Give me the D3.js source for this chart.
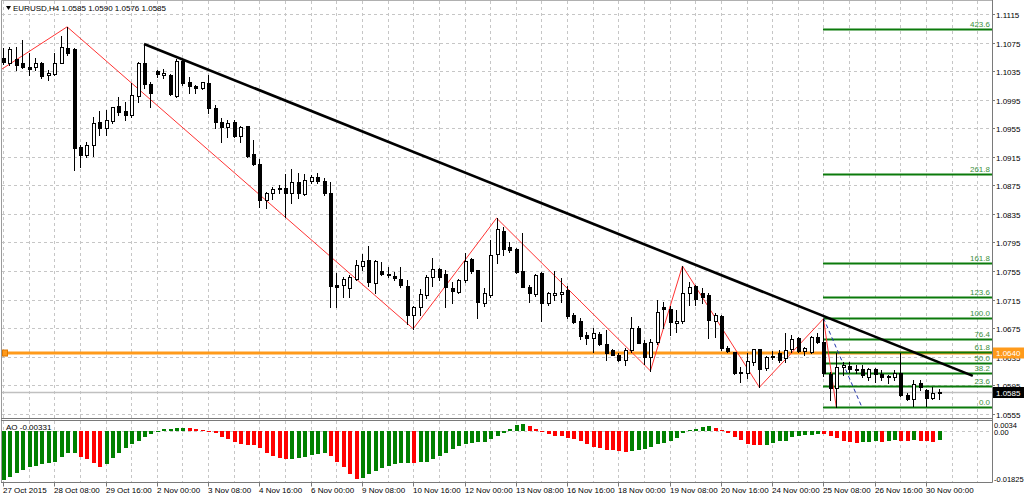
<!DOCTYPE html>
<html><head><meta charset="utf-8">
<script src="https://cdn.jsdelivr.net/npm/d3@7"></script>
<style>html,body{margin:0;padding:0;background:#fff;overflow:hidden;} svg{display:block;font-family:"Liberation Sans",Arial,sans-serif;}</style>
</head><body><svg id="c" width="1024" height="497"></svg>
<script>
// ---------------- DATA ----------------
const symbolTitle = "EURUSD,H4";
const lastOHLC = [1.0585, 1.0590, 1.0576, 1.0585];

const openP = [1.1053,1.1046,1.1052,1.1046,1.1041,1.1041,1.1046,1.1030,1.1031,1.1046,
1.1067,1.1066,1.0929,1.0917,1.0931,1.0964,1.0955,1.0965,1.0986,1.0979,
1.0973,1.1000,1.1046,1.1017,1.1035,1.1029,1.1029,1.1000,1.1049,1.1020,
1.1014,1.1011,1.1018,1.0983,1.0964,1.0957,1.0964,1.0944,1.0958,1.0919,
1.0905,1.0854,1.0864,1.0871,1.0871,1.0864,1.0880,1.0863,1.0881,1.0887,
1.0881,1.0864,1.0735,1.0735,1.0731,1.0744,1.0762,1.0770,1.0738,1.0755,
1.0751,1.0748,1.0744,1.0734,1.0693,1.0704,1.0721,1.0747,1.0758,1.0751,
1.0731,1.0726,1.0742,1.0772,1.0756,1.0710,1.0721,1.0779,1.0811,1.0788,
1.0786,1.0755,1.0733,1.0723,1.0752,1.0710,1.0722,1.0723,1.0728,1.0693,
1.0685,1.0665,1.0661,1.0667,1.0653,1.0644,1.0637,1.0630,1.0644,1.0675,
1.0654,1.0634,1.0656,1.0704,1.0701,1.0682,1.0685,1.0724,1.0734,1.0724,
1.0721,1.0685,1.0692,1.0647,1.0641,1.0613,1.0612,1.0627,1.0646,1.0619,
1.0636,1.0640,1.0633,1.0646,1.0661,1.0643,1.0641,1.0662,1.0655,1.0611,
1.0591,1.0620,1.0622,1.0618,1.0618,1.0607,1.0618,1.0611,1.0608,1.0606,
1.0612,1.0581,1.0576,1.0598,1.0588,1.0577,1.0585];
const highP = [1.1067,1.1069,1.1069,1.1079,1.1060,1.1053,1.1048,1.1037,1.1060,1.1084,
1.1097,1.1067,1.0931,1.0936,1.0971,1.0979,1.0980,1.0985,1.0999,1.0992,
1.1018,1.1048,1.1073,1.1020,1.1037,1.1038,1.1031,1.1052,1.1052,1.1027,
1.1016,1.1020,1.1030,1.0988,1.0969,1.0966,1.0966,1.0958,1.0958,1.0938,
1.0912,1.0866,1.0873,1.0875,1.0891,1.0898,1.0892,1.0891,1.0889,1.0892,
1.0885,1.0880,1.0752,1.0747,1.0749,1.0770,1.0779,1.0790,1.0770,1.0768,
1.0761,1.0753,1.0760,1.0742,1.0706,1.0730,1.0749,1.0773,1.0759,1.0756,
1.0740,1.0744,1.0780,1.0773,1.0757,1.0731,1.0798,1.0829,1.0817,1.0795,
1.0787,1.0808,1.0735,1.0751,1.0753,1.0725,1.0755,1.0745,1.0734,1.0696,
1.0689,1.0669,1.0675,1.0669,1.0672,1.0645,1.0640,1.0647,1.0690,1.0678,
1.0658,1.0659,1.0714,1.0711,1.0706,1.0700,1.0762,1.0740,1.0736,1.0731,
1.0724,1.0696,1.0693,1.0650,1.0641,1.0620,1.0640,1.0646,1.0646,1.0636,
1.0643,1.0644,1.0668,1.0665,1.0663,1.0648,1.0664,1.0668,1.0688,1.0613,
1.0640,1.0627,1.0627,1.0623,1.0623,1.0619,1.0619,1.0616,1.0609,1.0616,
1.0640,1.0584,1.0602,1.0602,1.0590,1.0592,1.0590];
const lowP = [1.1045,1.1044,1.1037,1.1039,1.1030,1.1037,1.1025,1.1023,1.1030,1.1046,
1.1058,1.0896,1.0901,1.0915,1.0916,1.0945,1.0945,1.0962,1.0973,1.0966,
1.0971,1.0992,1.1011,1.0985,1.1027,1.1025,1.1001,1.0999,1.1016,1.1004,
1.1004,1.1010,1.0976,1.0955,1.0936,1.0943,1.0943,1.0936,1.0915,1.0903,
1.0845,1.0843,1.0856,1.0864,1.0830,1.0850,1.0857,1.0861,1.0878,1.0878,
1.0861,1.0704,1.0704,1.0719,1.0719,1.0742,1.0756,1.0734,1.0724,1.0750,
1.0747,1.0742,1.0733,1.0681,1.0674,1.0693,1.0717,1.0734,1.0742,1.0704,
1.0710,1.0724,1.0739,1.0752,1.0689,1.0706,1.0718,1.0766,1.0777,1.0782,
1.0752,1.0733,1.0712,1.0720,1.0685,1.0707,1.0714,1.0711,1.0689,1.0682,
1.0660,1.0653,1.0641,1.0651,1.0630,1.0637,1.0629,1.0623,1.0641,1.0654,
1.0625,1.0615,1.0653,1.0675,1.0665,1.0670,1.0682,1.0707,1.0707,1.0710,
1.0661,1.0662,1.0644,1.0641,1.0611,1.0599,1.0605,1.0623,1.0592,1.0616,
1.0632,1.0627,1.0627,1.0641,1.0641,1.0637,1.0640,1.0654,1.0608,1.0574,
1.0564,1.0609,1.0613,1.0612,1.0606,1.0602,1.0599,1.0602,1.0598,1.0602,
1.0580,1.0574,1.0566,1.0588,1.0566,1.0575,1.0576];
const closeP = [1.1048,1.1066,1.1044,1.1041,1.1038,1.1046,1.1028,1.1032,1.1046,1.1069,
1.1060,1.0927,1.0917,1.0931,1.0962,1.0955,1.0966,1.0985,1.0978,1.0973,
1.1002,1.1046,1.1017,1.1004,1.1031,1.1032,1.1003,1.1049,1.1018,1.1014,
1.1011,1.1020,1.0983,1.0964,1.0957,1.0962,1.0944,1.0957,1.0916,1.0905,
1.0854,1.0864,1.0870,1.0870,1.0864,1.0880,1.0864,1.0882,1.0887,1.0881,
1.0864,1.0734,1.0733,1.0744,1.0747,1.0763,1.0769,1.0740,1.0769,1.0751,
1.0749,1.0745,1.0735,1.0693,1.0704,1.0723,1.0747,1.0758,1.0747,1.0733,
1.0727,1.0742,1.0769,1.0755,1.0711,1.0724,1.0777,1.0814,1.0786,1.0784,
1.0754,1.0733,1.0724,1.0749,1.0710,1.0724,1.0724,1.0725,1.0692,1.0683,
1.0664,1.0661,1.0668,1.0653,1.0640,1.0637,1.0630,1.0644,1.0675,1.0654,
1.0634,1.0655,1.0698,1.0701,1.0683,1.0685,1.0724,1.0733,1.0716,1.0718,
1.0686,1.0693,1.0647,1.0643,1.0612,1.0612,1.0629,1.0646,1.0618,1.0634,
1.0634,1.0630,1.0644,1.0660,1.0643,1.0647,1.0662,1.0655,1.0612,1.0591,
1.0620,1.0623,1.0618,1.0617,1.0609,1.0618,1.0611,1.0606,1.0606,1.0612,
1.0581,1.0576,1.0597,1.0592,1.0577,1.0584,1.0585];

const aoValues = [-0.01766,-0.01646,-0.01503,-0.01408,-0.01312,-0.01265,-0.01205,-0.01169,-0.01109,-0.00954,
-0.00811,-0.00799,-0.00931,-0.01014,-0.01145,-0.01288,-0.01205,-0.00990,-0.00787,-0.00632,
-0.00489,-0.00358,-0.00215,-0.00119,-0.00036,0.00048,0.00072,0.00084,0.00107,0.00084,
0.00072,0.00036,-0.00012,-0.00095,-0.00215,-0.00286,-0.00418,-0.00489,-0.00501,-0.00525,
-0.00632,-0.00787,-0.00907,-0.00966,-0.01026,-0.01014,-0.00966,-0.00931,-0.00871,-0.00823,
-0.00811,-0.00895,-0.01109,-0.01312,-0.01563,-0.01730,-0.01706,-0.01563,-0.01444,-0.01348,
-0.01253,-0.01193,-0.01157,-0.01145,-0.01157,-0.01133,-0.01109,-0.01002,-0.00895,-0.00787,
-0.00668,-0.00549,-0.00489,-0.00441,-0.00418,-0.00394,-0.00310,-0.00179,-0.00095,0.00048,
0.00203,0.00239,0.00167,0.00060,-0.00048,-0.00119,-0.00179,-0.00203,-0.00262,-0.00286,
-0.00358,-0.00489,-0.00573,-0.00632,-0.00692,-0.00704,-0.00728,-0.00752,-0.00716,-0.00692,
-0.00656,-0.00573,-0.00477,-0.00453,-0.00358,-0.00251,-0.00095,0.00024,0.00048,0.00119,
0.00167,0.00084,0.00024,-0.00072,-0.00215,-0.00334,-0.00477,-0.00501,-0.00525,-0.00513,
-0.00429,-0.00370,-0.00358,-0.00239,-0.00191,-0.00155,-0.00143,-0.00119,-0.00131,-0.00191,
-0.00274,-0.00358,-0.00418,-0.00453,-0.00406,-0.00394,-0.00382,-0.00394,-0.00370,-0.00346,
-0.00358,-0.00370,-0.00346,-0.00358,-0.00382,-0.00394,-0.00331];
const aoCurrent = "-0.00331";

const priceTicks = [1.1115,1.1075,1.1035,1.0995,1.0955,1.0915,1.0875,1.0835,1.0795,1.0755,1.0715,1.0675,1.0635,1.0595,1.0555];
const aoTickValues = [0.0034, 0, -0.01825];
const aoTickLabels = ["0.0034", "0.00", "-0.01825"];

const dateLabels = ["27 Oct 2015","28 Oct 08:00","29 Oct 16:00","2 Nov 00:00","3 Nov 08:00","4 Nov 16:00","6 Nov 00:00","9 Nov 08:00","10 Nov 16:00","12 Nov 00:00","13 Nov 08:00","16 Nov 16:00","18 Nov 00:00","19 Nov 08:00","20 Nov 16:00","24 Nov 00:00","25 Nov 08:00","26 Nov 16:00","30 Nov 00:00"];
const dateLabelIdx = [0,8,16,24,32,40,48,56,64,72,80,88,96,104,112,120,128,136,144];

const zigzagIdx = [-1,10,64,77,101,106,118,128,130];
const zigzagPrice = [1.1033,1.1097,1.0674,1.0829,1.0615,1.0762,1.0592,1.0688,1.0564];

const trendIdx = [22, 151.3];
const trendPrice = [1.1073, 1.0608];

const fibLevels = [0, 23.6, 38.2, 50, 61.8, 76.4, 100, 123.6, 161.8, 261.8, 423.6];
const fibLow = 1.0564, fibHigh = 1.0689;
const fibIdx = [128, 134];

const hLinePrice = 1.0640;
const bidPrice = 1.0585;

// ---------------- LAYOUT ----------------
const svg = d3.select("#c");
const axisX = 992, mainTop = 0.5, mainBottom = 418.5, aoTop = 420.5, aoBottom = 482.5;
const barStep = 6.41, n = closeP.length;
const x = d3.scaleLinear().domain([0, n - 1]).range([3, 3 + (n - 1) * barStep]);
const y = d3.scaleLinear().domain([1.0555, 1.1115]).range([413.7, 14]);
const yAO = d3.scaleLinear().domain([-0.01825, 0.0034]).range([481.7, 421.2]);
const rx = i => Math.round(x(i));

const defs = svg.append("defs");
defs.append("clipPath").attr("id","mainClip").append("rect").attr("x",2).attr("y",1).attr("width",axisX-2).attr("height",417);
defs.append("clipPath").attr("id","aoClip").append("rect").attr("x",2).attr("y",421).attr("width",axisX-2).attr("height",61);

const gridColor = "#c6c6c6";
// grid
const gGrid = svg.append("g");
priceTicks.forEach(p => {
  const yy = Math.round(y(p)) + 0.5;
  gGrid.append("line").attr("x1",2).attr("x2",axisX).attr("y1",yy).attr("y2",yy)
    .attr("stroke",gridColor).attr("stroke-dasharray","3,3");
});
d3.range(0, 156, 4).forEach(i => {
  const xx = rx(i) + 0.5;
  if (xx >= axisX) return;
  gGrid.append("line").attr("x1",xx).attr("x2",xx).attr("y1",1).attr("y2",418)
    .attr("stroke",gridColor).attr("stroke-dasharray","3,3");
  gGrid.append("line").attr("x1",xx).attr("x2",xx).attr("y1",421).attr("y2",482)
    .attr("stroke",gridColor).attr("stroke-dasharray","3,3");
});
// AO zero grid
gGrid.append("line").attr("x1",2).attr("x2",axisX).attr("y1",Math.round(yAO(0))+0.5).attr("y2",Math.round(yAO(0))+0.5)
  .attr("stroke",gridColor).attr("stroke-dasharray","3,3");

// main panel content
const gMain = svg.append("g").attr("clip-path","url(#mainClip)");

// bid line
gMain.append("line").attr("x1",0).attr("x2",axisX).attr("y1",Math.round(y(bidPrice))+0.5).attr("y2",Math.round(y(bidPrice))+0.5)
  .attr("stroke","#c0c0c0").attr("stroke-width",1.5);

// orange horizontal line
const yH = y(hLinePrice);
gMain.append("line").attr("x1",0).attr("x2",axisX).attr("y1",yH).attr("y2",yH)
  .attr("stroke","#ff9a1a").attr("stroke-width",3);
gMain.append("rect").attr("x",2.5).attr("y",yH-3).attr("width",5).attr("height",6)
  .attr("fill","#ff9a1a").attr("stroke","#e07800").attr("stroke-width",1);

// fib lines
const gFib = gMain.append("g");
fibLevels.forEach(lv => {
  const p = fibLow + (fibHigh - fibLow) * lv / 100;
  const yy = Math.round(y(p)) + 0.5;
  gFib.append("line").attr("x1",rx(fibIdx[0])).attr("x2",axisX).attr("y1",yy).attr("y2",yy)
    .attr("stroke","#0b7a0b").attr("stroke-width",2);
  gFib.append("text").attr("x",990).attr("y",yy-2.5).attr("text-anchor","end")
    .attr("font-size","8px").attr("fill","#3d8f3d").text(lv.toFixed(1));
});
// fib dashed diagonal
gMain.append("line").attr("x1",x(fibIdx[0])).attr("y1",y(fibHigh)).attr("x2",x(fibIdx[1])).attr("y2",y(fibLow))
  .attr("stroke","#2233aa").attr("stroke-width",1).attr("stroke-dasharray","4,3");

// zigzag
const zz = zigzagIdx.map((d,k)=>[x(d), y(zigzagPrice[k])]);
gMain.append("path").attr("d", d3.line()(zz)).attr("fill","none").attr("stroke","#ff3333").attr("stroke-width",1);

// candles
const gC = gMain.append("g");
for (let i = 0; i < n; i++) {
  const cx = rx(i);
  const o = openP[i], c = closeP[i], h = highP[i], l = lowP[i];
  gC.append("line").attr("x1",cx+0.5).attr("x2",cx+0.5).attr("y1",Math.round(y(h))).attr("y2",Math.round(y(l))+1)
    .attr("stroke","#000").attr("stroke-width",1);
  const top = Math.round(y(Math.max(o,c))), bot = Math.round(y(Math.min(o,c)));
  if (c >= o) {
    gC.append("rect").attr("x",cx-0.5).attr("y",top+0.5).attr("width",3).attr("height",Math.max(bot-top,1))
      .attr("fill","#fff").attr("stroke","#000").attr("stroke-width",1);
  } else {
    gC.append("rect").attr("x",cx-1).attr("y",top).attr("width",4).attr("height",Math.max(bot-top,1)+1)
      .attr("fill","#000");
  }
}

// trendline
gMain.append("line").attr("x1",x(trendIdx[0])).attr("y1",y(trendPrice[0])).attr("x2",x(trendIdx[1])).attr("y2",y(trendPrice[1]))
  .attr("stroke","#000").attr("stroke-width",2.6);

// AO bars
const gAO = svg.append("g").attr("clip-path","url(#aoClip)");
const y0 = Math.round(yAO(0));
aoValues.forEach((v,i) => {
  const col = (i === 0 || v >= aoValues[i-1]) ? "#008000" : "#ff0000";
  const yy = Math.round(yAO(v));
  gAO.append("rect").attr("x",rx(i)-1).attr("y",Math.min(yy,y0)).attr("width",4).attr("height",Math.max(Math.abs(yy-y0),1))
    .attr("fill",col);
});

// frames
const frameCol = "#7a7a7a";
svg.append("line").attr("x1",1.5).attr("x2",1.5).attr("y1",0).attr("y2",aoBottom).attr("stroke","#9a9a9a");
svg.append("line").attr("x1",1).attr("x2",axisX).attr("y1",mainTop).attr("y2",mainTop).attr("stroke","#b0b0b0");
[mainBottom, aoTop, aoBottom].forEach(yy => {
  svg.append("line").attr("x1",1).attr("x2",axisX+0.5).attr("y1",yy).attr("y2",yy).attr("stroke",frameCol);
});
svg.append("line").attr("x1",axisX+0.5).attr("x2",axisX+0.5).attr("y1",0).attr("y2",aoBottom).attr("stroke",frameCol);

// price axis
const gAx = svg.append("g").attr("font-size","8px").attr("fill","#000");
priceTicks.forEach(p => {
  const yy = Math.round(y(p)) + 0.5;
  gAx.append("line").attr("x1",axisX).attr("x2",axisX+3).attr("y1",yy).attr("y2",yy).attr("stroke",frameCol);
  gAx.append("text").attr("x",996).attr("y",yy+3).text(p.toFixed(4));
});
// AO axis labels
const aoLabelY = [425, 431.5, 478.5];
aoTickValues.forEach((v,k) => {
  gAx.append("text").attr("x",994).attr("y",aoLabelY[k]+3).attr("font-size","7.5px").text(aoTickLabels[k]);
});
// orange price box
gAx.append("rect").attr("x",993).attr("y",Math.round(yH)-5.5).attr("width",31).attr("height",11).attr("fill","#ff9a1a");
gAx.append("text").attr("x",996).attr("y",Math.round(yH)+3).attr("fill","#fff").text(hLinePrice.toFixed(4));
// bid box
const yB = Math.round(y(bidPrice));
gAx.append("rect").attr("x",993).attr("y",yB-5).attr("width",31).attr("height",11).attr("fill","#000");
gAx.append("text").attr("x",996).attr("y",yB+3.5).attr("fill","#fff").text(bidPrice.toFixed(4));

// date axis
dateLabelIdx.forEach((i,k) => {
  const xx = rx(i) + 0.5;
  gAx.append("line").attr("x1",xx).attr("x2",xx).attr("y1",aoBottom).attr("y2",aoBottom+4).attr("stroke",frameCol);
  gAx.append("text").attr("x",xx-0.5).attr("y",493).text(dateLabels[k]);
});

// title
svg.append("path").attr("d","M6,6 L11,6 L8.5,10 Z").attr("fill","#000");
svg.append("text").attr("x",13).attr("y",11).attr("font-size","8px").attr("fill","#000")
  .text(symbolTitle + "  " + lastOHLC.map(v=>v.toFixed(4)).join(" "));
// AO label
svg.append("text").attr("x",6).attr("y",430).attr("font-size","8px").attr("fill","#000").text("AO " + aoCurrent);
</script>
</body></html>
